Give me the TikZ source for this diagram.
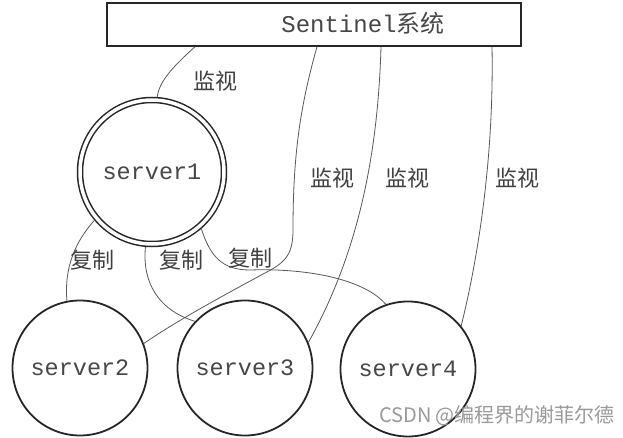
\documentclass[tikz,border=0pt]{standalone}
\usepackage{fontspec}
\setmonofont{Liberation Mono}
\newfontfamily\cjk{Noto Sans CJK SC}
\begin{document}
\begin{tikzpicture}[x=1pt,y=-1pt,
  srvtxt/.style={font=\ttfamily\fontsize{23.5}{28}\selectfont, text=black!72},
  srv/.style={srvtxt, circle, draw=black!85, line width=1.8pt, minimum size=135pt, inner sep=0pt},
  master/.style={srvtxt, circle, draw=black!85, line width=1.5pt, double=white, double distance=3.5pt, minimum size=144pt, inner sep=0pt, outer sep=3.25pt},
  conn/.style={draw=black!65, line width=0.8pt},
  lbl/.style={font=\cjk\fontsize{22}{26}\selectfont, text=black!75, inner sep=0pt},
]
\useasboundingbox (0,0) rectangle (623,438);
\fill[white] (0,0) rectangle (623,438);

% nodes
\node[draw=black!85, line width=1.6pt, minimum width=414pt, minimum height=43pt, inner sep=0pt] (sent) at (314,24.5) {};
\node[font=\fontsize{24}{28}\selectfont, text=black!72, inner sep=0pt] (st) at (363,23) {{\ttfamily Sentinel}{\cjk 系统}};
\node[master] (s1) at (152,172) {server1};
\node[srv] (s2) at (80,368) {server2};
\node[srv] (s3) at (245,368) {server3};
\node[srv] (s4) at (408,369) {server4};

% monitoring connectors
\draw[conn] ([xshift=-119pt]sent.south) .. controls (178,62) and (159,80) .. (s1.86);
\draw[conn] ([xshift=3pt]sent.south) .. controls (299,110) and (293,160) .. (293,230)
   .. controls (293,256) and (284,263) .. (265,273)
   .. controls (215,300) and (175,322) .. (s2.21);
\draw[conn] ([xshift=67pt]sent.south) .. controls (378,150) and (360,250) .. (s3.22);
\draw[conn] ([xshift=178pt]sent.south) .. controls (494,150) and (480,250) .. (s4.39);

% replication connectors
\draw[conn] (s1.220) .. controls (75,242) and (64,268) .. (s2.101);
\draw[conn] (s1.265) .. controls (142,282) and (158,310) .. (s3.137);
\draw[conn] (s1.311) .. controls (210,256) and (222,270) .. (250,270)
   .. controls (310,268) and (365,280) .. (s4.109);

% labels
\node[lbl] (m1) at (215,81) {监视};
\node[lbl] (m2) at (332,178) {监视};
\node[lbl] (m3) at (407,178) {监视};
\node[lbl] (m4) at (517,178) {监视};
\node[lbl] (r1) at (92,260) {复制};
\node[lbl] (r2) at (181,260) {复制};
\node[lbl] (r3) at (250,258) {复制};

\node[font=\cjk\fontsize{20}{24}\selectfont, text=black!40, inner sep=0pt] (wm) at (497,416) {CSDN @编程界的谢菲尔德};
\end{tikzpicture}
\end{document}
